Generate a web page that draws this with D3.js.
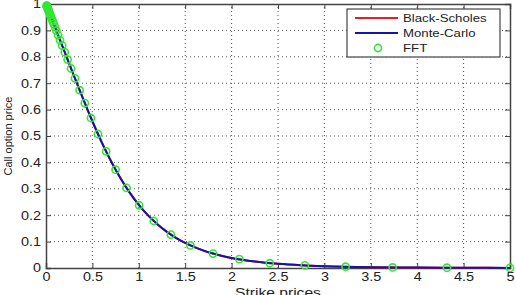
<!DOCTYPE html>
<html>
<head>
<meta charset="utf-8">
<script src="https://cdn.jsdelivr.net/npm/d3@7"></script>
<style>
  body { margin: 0; background: #fff; }
  text { font-family: "Liberation Sans", Arial, sans-serif; fill: #222; }
</style>
</head>
<body>
<script>
// strike grid used for the two continuous curves
const strikes = [0, 0.05, 0.1, 0.2, 0.3, 0.4, 0.5, 0.6, 0.7, 0.8, 0.9, 1.0, 1.1, 1.2, 1.3, 1.4, 1.5,
  1.6, 1.7, 1.8, 1.9, 2.0, 2.25, 2.5, 2.75, 3.0, 3.5, 4.0, 4.5, 5.0];
const blackScholes = [1, 0.9548, 0.9095, 0.8191, 0.7289, 0.6403, 0.5555, 0.4765, 0.4049, 0.3415, 0.2864,
  0.2393, 0.1993, 0.1657, 0.1376, 0.1143, 0.0949, 0.0789, 0.0656, 0.0546, 0.0455, 0.038, 0.0244,
  0.0158, 0.0104, 0.0069, 0.0031, 0.0015, 0.0007, 0.0004];
const monteCarlo = [1, 0.9549, 0.9096, 0.8193, 0.7292, 0.6405, 0.5558, 0.4767, 0.4051, 0.3418, 0.2866,
  0.2395, 0.1995, 0.1659, 0.1378, 0.1144, 0.0950, 0.0790, 0.0657, 0.0547, 0.0456, 0.0381, 0.0245,
  0.0159, 0.0104, 0.0069, 0.0031, 0.0015, 0.0007, 0.0004];

// FFT strikes (log-spaced) and prices
const fftStrikes = [5.000, 4.321, 3.735, 3.228, 2.789, 2.411, 2.083, 1.800, 1.556, 1.345, 1.162, 1.004,
  0.868, 0.750, 0.648, 0.560, 0.484, 0.418, 0.362, 0.312, 0.270, 0.233, 0.202, 0.174, 0.151, 0.130,
  0.112, 0.097, 0.084, 0.073, 0.063, 0.054, 0.047, 0.040, 0.035, 0.030, 0.026, 0.023, 0.019, 0.017,
  0.015, 0.013, 0.011, 0.0095, 0.0082, 0.0071];
const fftPrices = [0.0004, 0.001, 0.002, 0.0048, 0.0098, 0.018, 0.0335, 0.0546, 0.0855, 0.1266, 0.178,
  0.2376, 0.3034, 0.3726, 0.4418, 0.5076, 0.5682, 0.6247, 0.6735, 0.7183, 0.7557, 0.7893, 0.8172,
  0.8426, 0.8634, 0.8824, 0.8987, 0.9122, 0.924, 0.9339, 0.943, 0.9511, 0.9575, 0.9638, 0.9683,
  0.9729, 0.9765, 0.9792, 0.9828, 0.9846, 0.9864, 0.9882, 0.99, 0.9914, 0.9926, 0.9936];

const xTicks = [0, 0.5, 1, 1.5, 2, 2.5, 3, 3.5, 4, 4.5, 5];
const yTicks = [0, 0.1, 0.2, 0.3, 0.4, 0.5, 0.6, 0.7, 0.8, 0.9, 1];
const legendNames = ["Black-Scholes", "Monte-Carlo", "FFT"];

const width = 516, height = 295;
const margin = { left: 46, right: 6, top: 4, bottom: 27 };

const svg = d3.select("body").append("svg").attr("width", width).attr("height", height);

const x = d3.scaleLinear().domain([0, 5]).range([margin.left, width - margin.right]);
const y = d3.scaleLinear().domain([0, 1]).range([height - margin.bottom, margin.top]);

// the source picture is a bit wider than tall, so texts get stretched sideways
function widen(sel, k) {
  sel.each(function() {
    const w = this.getComputedTextLength();
    d3.select(this).attr("textLength", w * k).attr("lengthAdjust", "spacingAndGlyphs");
  });
}

// grid (dotted)
svg.append("g").selectAll("line").data(xTicks.slice(1, -1)).join("line")
  .attr("x1", d => x(d)).attr("x2", d => x(d))
  .attr("y1", y(0)).attr("y2", y(1))
  .attr("stroke", "#555").attr("stroke-width", 1).attr("stroke-dasharray", "1,3");
svg.append("g").selectAll("line").data(yTicks.slice(1, -1)).join("line")
  .attr("y1", d => y(d)).attr("y2", d => y(d))
  .attr("x1", x(0)).attr("x2", x(5))
  .attr("stroke", "#555").attr("stroke-width", 1).attr("stroke-dasharray", "1,3");

// axes with inward ticks
const axisB = d3.axisBottom(x).tickValues(xTicks).tickSize(-5).tickPadding(4).tickFormat(d3.format("~g"));
const axisL = d3.axisLeft(y).tickValues(yTicks).tickSize(-5).tickPadding(5).tickFormat(d3.format("~g"));
const axisT = d3.axisTop(x).tickValues(xTicks).tickSize(-5).tickFormat("");
const axisR = d3.axisRight(y).tickValues(yTicks).tickSize(-5).tickFormat("");

function styleAxis(g) {
  g.selectAll("path").attr("stroke", "#444").attr("stroke-width", 1.5);
  g.selectAll("line").attr("stroke", "#444");
  g.selectAll("text").attr("font-size", 12).attr("font-family", "Liberation Sans, Arial, sans-serif")
    .attr("fill", "#222").call(widen, 1.2);
}
svg.append("g").attr("transform", `translate(0,${y(0)})`).call(axisB).call(styleAxis);
svg.append("g").attr("transform", `translate(${x(0)},0)`).call(axisL).call(styleAxis);
svg.append("g").attr("transform", `translate(0,${y(1)})`).call(axisT).call(styleAxis);
svg.append("g").attr("transform", `translate(${x(5)},0)`).call(axisR).call(styleAxis);

// curves
const line = d3.line().x(d => x(d[0])).y(d => y(d[1])).curve(d3.curveMonotoneX);
svg.append("path").datum(strikes.map((k, i) => [k, blackScholes[i]]))
  .attr("fill", "none").attr("stroke", "#e0202a").attr("stroke-width", 2).attr("d", line);
svg.append("path").datum(strikes.map((k, i) => [k, monteCarlo[i]]))
  .attr("fill", "none").attr("stroke", "#1414a8").attr("stroke-width", 2).attr("d", line);

// FFT markers
svg.append("g").selectAll("circle").data(fftStrikes.map((k, i) => [k, fftPrices[i]])).join("circle")
  .attr("cx", d => x(d[0])).attr("cy", d => y(d[1])).attr("r", 3.6)
  .attr("fill", "none").attr("stroke", "#33e633").attr("stroke-width", 1.6);

// axis labels
svg.append("text").attr("x", (x(0) + x(5)) / 2).attr("y", 297).attr("text-anchor", "middle")
  .attr("font-size", 13).text("Strike prices").call(widen, 1.2);
svg.append("text").attr("transform", `translate(12,${(y(0) + y(1)) / 2}) rotate(-90)`)
  .attr("text-anchor", "middle").attr("font-size", 11).text("Call option price");

// legend
const lg = svg.append("g").attr("transform", "translate(347,9)");
lg.append("rect").attr("width", 153).attr("height", 48).attr("fill", "#fff")
  .attr("stroke", "#444").attr("stroke-width", 1.2);
const legendColors = ["#e0202a", "#1414a8", "#33e633"];
legendNames.forEach((name, i) => {
  const ly = 9 + i * 15;
  if (i < 2) {
    lg.append("line").attr("x1", 8).attr("x2", 51).attr("y1", ly).attr("y2", ly)
      .attr("stroke", legendColors[i]).attr("stroke-width", 2);
  } else {
    lg.append("circle").attr("cx", 31).attr("cy", ly).attr("r", 3.6)
      .attr("fill", "none").attr("stroke", legendColors[i]).attr("stroke-width", 1.6);
  }
  lg.append("text").attr("x", 56).attr("y", ly + 4).attr("font-size", 11).text(name).call(widen, 1.2);
});
</script>
</body>
</html>
